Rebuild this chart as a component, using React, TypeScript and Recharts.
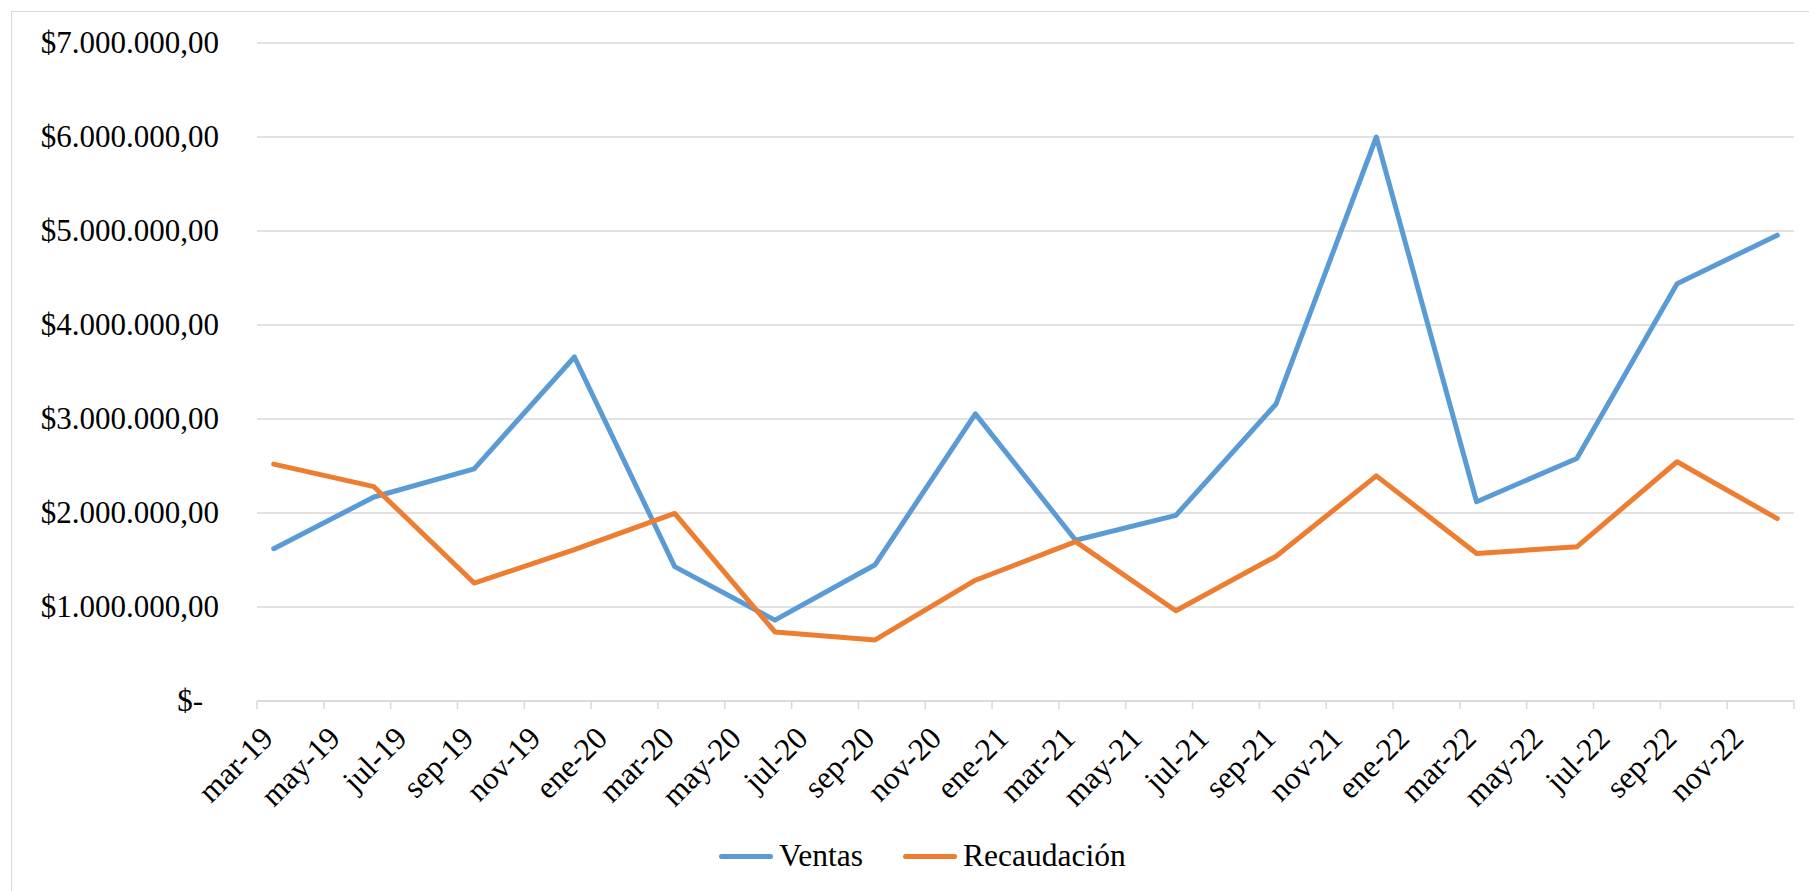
import { LineChart, Line, XAxis, YAxis, CartesianGrid, Legend } from "recharts";

// quarterly periods (Spanish month abbreviations)
const periods = [
  "mar-19", "jun-19", "sep-19", "dic-19",
  "mar-20", "jun-20", "sep-20", "dic-20",
  "mar-21", "jun-21", "sep-21", "dic-21",
  "mar-22", "jun-22", "sep-22", "dic-22",
];

const ventas = [
  1620000, 2170000, 2470000, 3660000,
  1430000, 860000, 1450000, 3055000,
  1710000, 1975000, 3160000, 6000000,
  2120000, 2580000, 4440000, 4955000,
];

const recaudacion = [
  2520000, 2280000, 1255000, 1610000,
  1995000, 735000, 650000, 1285000,
  1695000, 960000, 1540000, 2395000,
  1570000, 1640000, 2545000, 1940000,
];

// axis labels every two months, starting at mar-19
const tickLabels = [
  "mar-19", "may-19", "jul-19", "sep-19", "nov-19", "ene-20",
  "mar-20", "may-20", "jul-20", "sep-20", "nov-20", "ene-21",
  "mar-21", "may-21", "jul-21", "sep-21", "nov-21", "ene-22",
  "mar-22", "may-22", "jul-22", "sep-22", "nov-22", "",
];

const yTicks = [0, 1000000, 2000000, 3000000, 4000000, 5000000, 6000000, 7000000];

const monthNames = ["ene", "feb", "mar", "abr", "may", "jun", "jul", "ago", "sep", "oct", "nov", "dic"];

// months since mar-19, centred in the month (date axis)
const monthPos = (label: string) => {
  const [m, y] = label.split("-");
  return (Number(y) - 19) * 12 + monthNames.indexOf(m) - 2 + 0.5;
};

const data = periods.map((p, i) => ({
  period: p,
  pos: monthPos(p),
  Ventas: ventas[i],
  Recaudación: recaudacion[i],
}));

const xTicks = tickLabels.map((_, i) => i * 2);

const FONT = '"Liberation Serif", "Times New Roman", serif';
const BLUE = "#5B9BD5";
const ORANGE = "#ED7D31";
const GRID = "#D9D9D9";

const formatMoney = (v: number) => {
  if (v === 0) return "$-";
  const s = Math.round(v).toString().replace(/\B(?=(\d{3})+(?!\d))/g, ".");
  return `$${s},00`;
};

const YTick = (props: any) => {
  const { x, y, payload } = props;
  return (
    <text x={x} y={y} dy={10} dx={payload.value === 0 ? -16 : 0} textAnchor="end" fontSize={31} fontFamily={FONT} fill="#000">
      {formatMoney(payload.value)}
    </text>
  );
};

const XTick = (props: any) => {
  const { x, y, payload } = props;
  const label = tickLabels[Math.round(payload.value / 2)] ?? "";
  return (
    <text
      x={0}
      y={0}
      transform={`translate(${x + 18},${y + 31}) rotate(-45)`}
      textAnchor="end"
      fontSize={31.5}
      fontFamily={FONT}
      fill="#000"
    >
      {label}
    </text>
  );
};

const LegendContent = () => (
  <div style={{ display: "flex", alignItems: "center", fontFamily: FONT, fontSize: 31.5, color: "#000", paddingLeft: 719 }}>
    {[
      { name: "Ventas", color: BLUE },
      { name: "Recaudación", color: ORANGE },
    ].map((item, i) => (
      <div key={item.name} style={{ display: "flex", alignItems: "center", marginLeft: i > 0 ? 40 : 0 }}>
        <span style={{ display: "inline-block", width: 54, height: 5, borderRadius: 3, background: item.color, marginRight: 6 }} />
        <span>{item.name}</span>
      </div>
    ))}
  </div>
);

export default function App() {
  return (
    <div style={{ position: "absolute", left: 0, top: 0, width: 1809, height: 891, overflow: "hidden", background: "#fff" }}>
      <div style={{ position: "absolute", left: 11, top: 11, width: 1900, height: 1000, border: `1.5px solid ${GRID}` }} />
      <div style={{ position: "absolute", left: 0, top: 0 }}>
        <LineChart width={1809} height={891} data={data} margin={{ top: 43, right: 15, left: 0, bottom: 0 }}>
          <CartesianGrid horizontal vertical={false} stroke={GRID} strokeWidth={1.5} />
          <XAxis
            type="number"
            dataKey="pos"
            domain={[0, 46]}
            ticks={xTicks}
            interval={0}
            tick={<XTick />}
            tickSize={8}
            tickMargin={0}
            axisLine={{ stroke: GRID, strokeWidth: 1.5 }}
            tickLine={{ stroke: GRID, strokeWidth: 1.5 }}
            height={190}
          />
          <YAxis
            type="number"
            domain={[0, 7000000]}
            ticks={yTicks}
            interval={0}
            width={257}
            tick={<YTick />}
            tickSize={0}
            tickMargin={38}
            axisLine={false}
            tickLine={false}
          />
          <Legend
            layout="horizontal"
            verticalAlign="middle"
            align="center"
            content={<LegendContent />}
            wrapperStyle={{ top: 838, left: 0, width: 1809 }}
          />
          <Line
            type="linear"
            dataKey="Ventas"
            stroke={BLUE}
            strokeWidth={5}
            strokeLinecap="round"
            strokeLinejoin="round"
            dot={false}
            isAnimationActive={false}
          />
          <Line
            type="linear"
            dataKey="Recaudación"
            stroke={ORANGE}
            strokeWidth={5}
            strokeLinecap="round"
            strokeLinejoin="round"
            dot={false}
            isAnimationActive={false}
          />
        </LineChart>
      </div>
    </div>
  );
}
